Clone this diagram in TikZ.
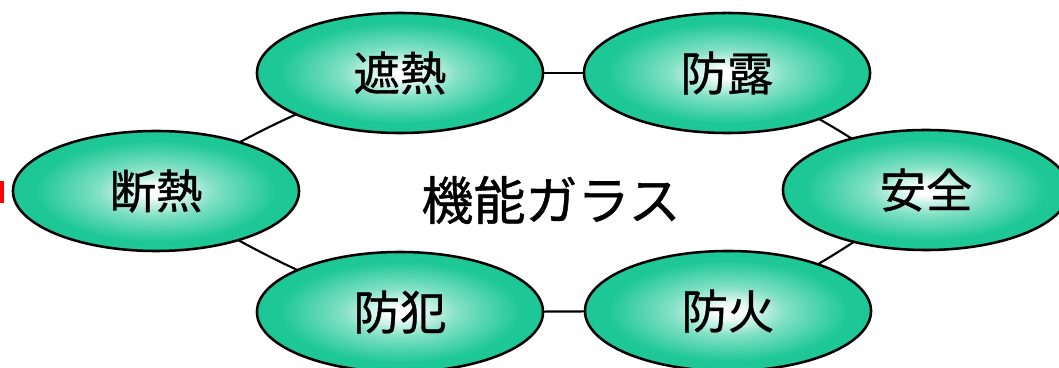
\documentclass[tikz,border=0pt]{standalone}
\usepackage{fontspec}
\newfontfamily\jp[FakeBold=0.8]{Noto Sans CJK JP}
\usetikzlibrary{shapes.geometric,backgrounds}
\definecolor{glassgreen}{RGB}{30,200,150}
\pgfdeclareradialshading{glassfill}{\pgfpoint{0bp}{0bp}}{color(0bp)=(white); color(2bp)=(white); color(10bp)=(white!45!glassgreen); color(21bp)=(glassgreen); color(25bp)=(glassgreen); color(50bp)=(glassgreen)}
\tikzset{
  topic/.style={ellipse, draw=black, line width=1.8pt, shading=glassfill,
    minimum width=7.15cm, minimum height=3cm, inner sep=0pt,
    font=\jp\fontsize{33}{36}\selectfont},
  ring/.style={draw=black, line width=1.5pt}
}

\begin{document}
\begin{tikzpicture}[x=0.025cm,y=0.025cm]
    \useasboundingbox (0,0) rectangle (1059,368);

    % The six topics
    \node [topic] (dannetsu) at (156,177) {断熱};
    \node [topic] (shanetsu) at (400,295) {遮熱};
    \node [topic] (boro)     at (727,295) {防露};
    \node [topic] (anzen)    at (926,178) {安全};
    \node [topic] (bohan)    at (400,56)  {防犯};
    \node [topic] (boka)     at (728,57)  {防火};

    % The title in the middle
    \node [font=\jp\fontsize{37}{40}\selectfont] (title) at (551,168) {機能ガラス};

    % The ring behind the topics
    \begin{pgfonlayer}{background}
      \draw [ring] (dannetsu.center) to[bend left=6] (shanetsu.center);
      \draw [ring] (shanetsu.center) -- (boro.center);
      \draw [ring] (boro.center) to[bend left=6] (anzen.center);
      \draw [ring] (anzen.center) to[bend left=6] (boka.center);
      \draw [ring] (boka.center) -- (bohan.center);
      \draw [ring] (bohan.center) to[bend left=6] (dannetsu.center);
    \end{pgfonlayer}

    % Red mark at the left edge
    \fill [red] (0,165) rectangle (3.5,187);
\end{tikzpicture}
\end{document}
